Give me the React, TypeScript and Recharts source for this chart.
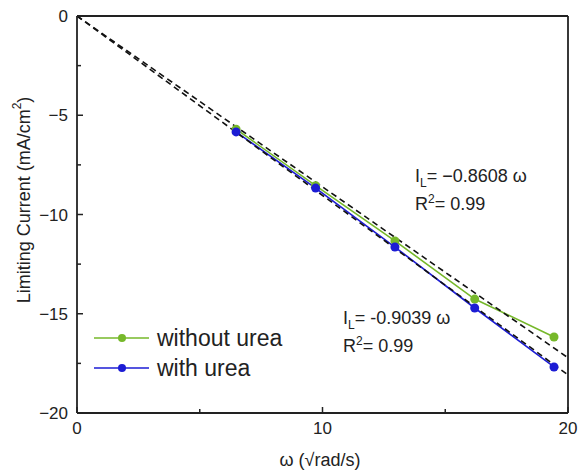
import React from "react";
import { LineChart, Line, XAxis, YAxis, ReferenceLine, Customized } from "recharts";

const omega = [6.48, 9.72, 12.95, 16.2, 19.43];
const withoutUrea = [-5.7, -8.55, -11.33, -14.26, -16.17];
const withUrea = [-5.84, -8.67, -11.64, -14.71, -17.68];

const fitX = [0, 20];
const fitWithout = [0, -17.216];
const fitWith = [0, -18.078];

const xTicks = [0, 5, 10, 15, 20];
const yTicks = [0, -2.5, -5, -7.5, -10, -12.5, -15, -17.5, -20];

const GREEN = "#76b82a";
const BLUE = "#1c1cd4";
const INK = "#222";
const FONT = "'Liberation Sans', Arial, sans-serif";

const dataWithout = omega.map((x, i) => ({ x, y: withoutUrea[i] }));
const dataWith = omega.map((x, i) => ({ x, y: withUrea[i] }));
const fitA = fitX.map((x, i) => ({ x, y: fitWithout[i] }));
const fitB = fitX.map((x, i) => ({ x, y: fitWith[i] }));

const fmt = (v: number) => (v < 0 ? "\u2212" + Math.abs(v) : String(v));

const XTick = (props: any) => {
  const { x, y, payload } = props;
  const v = payload.value;
  const major = v % 10 === 0;
  return (
    <g>
      <line x1={x} x2={x} y1={y} y2={y - (major ? 6 : 4)} stroke={INK} strokeWidth={1.5} />
      {major && (
        <text x={x} y={y + 21} textAnchor="middle" fontSize={17} fontFamily={FONT} fill={INK}>
          {v}
        </text>
      )}
    </g>
  );
};

const YTick = (props: any) => {
  const { x, y, payload } = props;
  const v = payload.value;
  const major = v % 5 === 0;
  return (
    <g>
      <line x1={x} x2={x + (major ? 6 : 4)} y1={y} y2={y} stroke={INK} strokeWidth={1.5} />
      {major && (
        <text x={x - 9} y={y + 6} textAnchor="end" fontSize={17} fontFamily={FONT} fill={INK}>
          {fmt(v)}
        </text>
      )}
    </g>
  );
};

const Annotations = () => (
  <g fontFamily={FONT} fill={INK}>
    <text x={415} y={182} fontSize={18}>
      I<tspan fontSize={12} dy={5}>L</tspan>
      <tspan dy={-5}>= {"\u2212"}0.8608 ω</tspan>
    </text>
    <text x={415} y={210} fontSize={18}>
      R<tspan fontSize={12} dy={-7}>2</tspan>
      <tspan dy={7}>= 0.99</tspan>
    </text>
    <text x={343} y={324} fontSize={18}>
      I<tspan fontSize={12} dy={5}>L</tspan>
      <tspan dy={-5}>= -0.9039 ω</tspan>
    </text>
    <text x={343} y={352} fontSize={18}>
      R<tspan fontSize={12} dy={-7}>2</tspan>
      <tspan dy={7}>= 0.99</tspan>
    </text>
    <text
      x={25}
      y={200}
      fontSize={18}
      textAnchor="middle"
      transform="rotate(-90 25 200)"
      dominantBaseline="middle"
    >
      Limiting Current (mA/cm<tspan fontSize={12} dy={-7}>2</tspan>
      <tspan dy={7}>)</tspan>
    </text>
    <text x={320} y={466} fontSize={18} textAnchor="middle">
      ω (√rad/s)
    </text>
    {[
      { label: "without urea", color: GREEN, y: 338 },
      { label: "with urea", color: BLUE, y: 368 },
    ].map((e) => (
      <g key={e.label}>
        <line x1={94} x2={149} y1={e.y} y2={e.y} stroke={e.color} strokeWidth={1.6} />
        <circle cx={122} cy={e.y} r={4} fill={e.color} />
        <text x={157} y={e.y + 8} fontSize={23}>
          {e.label}
        </text>
      </g>
    ))}
  </g>
);

export default function App() {
  return (
    <div style={{ position: "absolute", left: 0, top: 0, width: 579, height: 472, background: "#fff" }}>
      <LineChart width={579} height={472} margin={{ top: 16, right: 11, bottom: 0, left: 0 }}>
        <XAxis
          type="number"
          dataKey="x"
          domain={[0, 20]}
          ticks={xTicks}
          height={59}
          tickSize={0}
          tickMargin={0}
          tick={<XTick />}
          stroke={INK}
          strokeWidth={1.8}
          allowDuplicatedCategory={false}
        />
        <YAxis
          type="number"
          dataKey="y"
          domain={[-20, 0]}
          ticks={yTicks}
          width={77}
          tickSize={0}
          tickMargin={0}
          tick={<YTick />}
          stroke={INK}
          strokeWidth={1.8}
          interval={0}
        />
        <ReferenceLine y={0} stroke={INK} strokeWidth={1.8} />
        <ReferenceLine x={20} stroke={INK} strokeWidth={1.8} />
        <Line
          data={dataWithout}
          dataKey="y"
          stroke={GREEN}
          strokeWidth={1.6}
          dot={{ r: 4.5, fill: GREEN, stroke: GREEN, strokeWidth: 0 }}
          isAnimationActive={false}
        />
        <Line
          data={dataWith}
          dataKey="y"
          stroke={BLUE}
          strokeWidth={1.6}
          dot={{ r: 4.5, fill: BLUE, stroke: BLUE, strokeWidth: 0 }}
          isAnimationActive={false}
        />
        <Line
          data={fitA}
          dataKey="y"
          stroke="#111"
          strokeWidth={1.6}
          strokeDasharray="6 4"
          dot={false}
          isAnimationActive={false}
        />
        <Line
          data={fitB}
          dataKey="y"
          stroke="#111"
          strokeWidth={1.6}
          strokeDasharray="6 4"
          dot={false}
          isAnimationActive={false}
        />
        <Customized component={Annotations} />
      </LineChart>
    </div>
  );
}
